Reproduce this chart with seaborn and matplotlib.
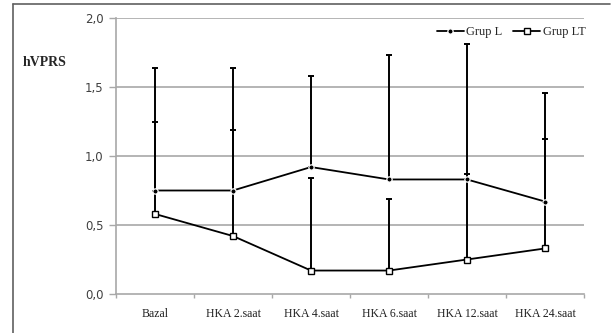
import matplotlib
matplotlib.use("Agg")
import matplotlib.pyplot as plt
from matplotlib.lines import Line2D
import seaborn as sns
import pandas as pd

# Measurement times and group results (mean, upper error)
times = ["Bazal", "HKA 2.saat", "HKA 4.saat", "HKA 6.saat", "HKA 12.saat", "HKA 24.saat"]
grup_l_mean = [0.75, 0.75, 0.92, 0.83, 0.83, 0.67]
grup_l_err = [0.89, 0.89, 0.66, 0.90, 0.98, 0.79]
grup_lt_mean = [0.58, 0.42, 0.17, 0.17, 0.25, 0.33]
grup_lt_err = [0.67, 0.77, 0.67, 0.52, 0.62, 0.79]
y_ticks = [0.0, 0.5, 1.0, 1.5, 2.0]
y_tick_labels = ["0,0", "0,5", "1,0", "1,5", "2,0"]

sns.set_theme(style="white")
serif = ["Liberation Serif", "DejaVu Serif"]

df_l = pd.DataFrame({"time": times, "value": grup_l_mean})
df_lt = pd.DataFrame({"time": times, "value": grup_lt_mean})

fig = plt.figure(figsize=(6.16, 3.33), dpi=100)
ax = fig.add_axes([116 / 616, 1 - 294 / 333, (584 - 116) / 616, (294 - 18) / 333])

pos = list(range(len(times)))

# upper-only error bars, drawn beneath the series lines
ax.errorbar(pos, grup_l_mean, yerr=[[0] * len(pos), grup_l_err], fmt="none",
            ecolor="black", elinewidth=1.4, capsize=2.4, capthick=1.4, zorder=2)
ax.errorbar(pos, grup_lt_mean, yerr=[[0] * len(pos), grup_lt_err], fmt="none",
            ecolor="black", elinewidth=1.4, capsize=2.4, capthick=1.4, zorder=2)

sns.lineplot(data=df_l, x="time", y="value", ax=ax, sort=False, color="black",
             linewidth=1.3, marker="o", markersize=3.8, markerfacecolor="black",
             markeredgecolor="white", markeredgewidth=0.9, label="Grup L", zorder=4)
sns.lineplot(data=df_lt, x="time", y="value", ax=ax, sort=False, color="black",
             linewidth=1.3, marker="s", markersize=5, markerfacecolor="white",
             markeredgecolor="black", markeredgewidth=1.0, label="Grup LT", zorder=4)

ax.set_xlim(-0.5, len(times) - 0.5)
ax.set_ylim(0, 2.0)

# horizontal gridlines
for yv in y_ticks[1:]:
    ax.axhline(yv, color="#a8a8a8", linewidth=1.2, zorder=1)

ax.set_yticks(y_ticks)
ax.set_yticklabels(y_tick_labels, fontsize=8.5, color="#404040", family="DejaVu Sans")
ax.tick_params(axis="y", which="major", direction="out", length=5, width=1.0,
               color="#a8a8a8", pad=4, left=True)

# category boundaries as ticks, labels centred between them
ax.set_xticks([p - 0.5 for p in pos] + [len(pos) - 0.5])
ax.set_xticklabels([])
ax.set_xticks(pos, minor=True)
ax.set_xticklabels(times, minor=True, fontsize=8.5, family=serif, color="#202020")
ax.tick_params(axis="x", which="major", direction="out", length=3, width=1.0,
               color="#a8a8a8", bottom=True)
ax.tick_params(axis="x", which="minor", length=0, pad=10)

ax.set_xlabel("")
ax.set_ylabel("")
for side in ("top", "right"):
    ax.spines[side].set_visible(False)
for side in ("left", "bottom"):
    ax.spines[side].set_color("#a8a8a8")
    ax.spines[side].set_linewidth(1.2)

leg = ax.legend(loc="center", bbox_to_anchor=(511 / 616, 1 - 32 / 333),
                bbox_transform=fig.transFigure, ncol=2, frameon=False,
                prop={"family": serif, "size": 9}, handlelength=2.2,
                handletextpad=0.2, columnspacing=0.8, borderaxespad=0)

fig.text(23 / 616, 1 - 63 / 333, "hVPRS", fontsize=10, fontweight="bold",
         family=serif, va="center", ha="left")

# outer frame edges
fig.add_artist(Line2D([13 / 616, 13 / 616], [0, 1 - 4 / 333], transform=fig.transFigure,
                      color="#606060", linewidth=1.2))
fig.add_artist(Line2D([13 / 616, 610 / 616], [1 - 4 / 333, 1 - 4 / 333],
                      transform=fig.transFigure, color="#606060", linewidth=1.2))

fig.savefig("out.png", dpi=100)
